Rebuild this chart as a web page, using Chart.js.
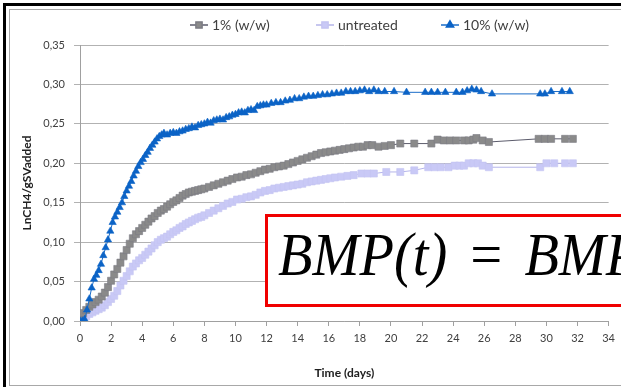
<!DOCTYPE html>
<html lang="en">
<head>
  <meta charset="UTF-8">
  <title>BMP curves</title>
  <style>
    html, body {
      margin: 0;
      padding: 0;
      width: 621px;
      height: 387px;
      overflow: hidden;
      background: #fff;
      font-family: 'Lato', sans-serif;
    }
    #wrap {
      position: relative;
      width: 621px;
      height: 387px;
      overflow: hidden;
    }
    canvas { position: absolute; left: 0; top: 0; }
    .frameOuter {
      position: absolute; left: 3px; top: 3px;
      width: 618px; height: 384px;
      border-left: 3px solid #000;
      border-top: 3px solid #000;
      box-sizing: border-box;
    }
    .frameInner {
      position: absolute; left: 9px; top: 9px;
      width: 612px; height: 377px;
      border-left: 1px solid #a8a8a8;
      border-top: 1px solid #a8a8a8;
      border-bottom: 1px solid #a8a8a8;
      box-sizing: border-box;
    }
    .formula {
      position: absolute; left: 265px; top: 214px;
      width: 356px; height: 93px;
      border: 3px solid #f00000;
      border-right: none;
      background: #fff;
      overflow: hidden;
      box-sizing: border-box;
    }
    .formula span {
      position: absolute; left: 10px; top: 6px;
      font-family: 'Liberation Serif', 'Times New Roman', serif;
      font-style: italic;
      font-size: 62px;
      line-height: 62px;
      white-space: nowrap;
      word-spacing: 6px;
      color: #000;
      transform: scaleX(0.91);
      transform-origin: left top;
    }
  </style>
  <script src="https://cdn.jsdelivr.net/npm/chart.js"></script>
</head>
<body>
<div id="wrap">
  <div class="frameOuter"></div>
  <div class="frameInner"></div>
  <canvas id="grafico" width="621" height="387"></canvas>
  <div class="formula"><span>BMP(t) = BMP</span></div>
</div>

<script>
  // series: days / LnCH4 per gSV added
  const seriesNames = ['1% (w/w)', 'untreated', '10% (w/w)'];

  const diasUno = [0.0, 0.2, 0.4, 0.6, 0.8, 1.0, 1.2, 1.4, 1.6, 1.8, 2.0, 2.2, 2.4, 2.6, 2.8, 3.0, 3.2, 3.4, 3.6, 3.8,
    4.0, 4.2, 4.4, 4.6, 4.8, 5.0, 5.2, 5.4, 5.6, 5.8, 6.0, 6.2, 6.4, 6.6, 6.8, 7.0, 7.2, 7.4, 7.6, 7.8,
    8.0, 8.3, 8.6, 8.9, 9.2, 9.5, 9.8, 10.1, 10.4, 10.7, 11.0, 11.3, 11.6, 11.9, 12.2, 12.5, 12.8, 13.1, 13.4, 13.7,
    14.0, 14.3, 14.6, 14.9, 15.2, 15.5, 15.8, 16.1, 16.4, 16.7, 17.0, 17.3, 17.6, 17.9, 18.2, 18.5, 18.8, 19.2, 19.6, 20.0,
    20.6, 21.5, 22.6, 23.0, 23.4, 23.8, 24.2, 24.7, 25.0, 25.3, 25.5, 25.9, 26.3, 29.5, 29.9, 30.3, 31.2, 31.7];
  const valoresUno = [0.004, 0.010, 0.014, 0.018, 0.021, 0.024, 0.027, 0.031, 0.036, 0.043, 0.051, 0.059, 0.066, 0.074, 0.082, 0.090, 0.098, 0.105, 0.110, 0.114,
    0.118, 0.122, 0.126, 0.130, 0.133, 0.137, 0.140, 0.142, 0.145, 0.148, 0.151, 0.153, 0.156, 0.159, 0.161, 0.163, 0.164, 0.165, 0.166, 0.167,
    0.168, 0.170, 0.172, 0.174, 0.176, 0.178, 0.180, 0.182, 0.183, 0.185, 0.186, 0.188, 0.190, 0.192, 0.193, 0.195, 0.196, 0.197, 0.199, 0.201,
    0.203, 0.205, 0.207, 0.209, 0.211, 0.213, 0.214, 0.215, 0.216, 0.217, 0.218, 0.219, 0.220, 0.221, 0.221, 0.223, 0.223, 0.221, 0.222, 0.223,
    0.225, 0.225, 0.225, 0.230, 0.229, 0.229, 0.229, 0.229, 0.229, 0.230, 0.232, 0.229, 0.227, 0.231, 0.231, 0.231, 0.231, 0.231];

  const diasSin = [0.0, 0.2, 0.4, 0.6, 0.8, 1.0, 1.2, 1.4, 1.6, 1.8, 2.0, 2.2, 2.4, 2.6, 2.8, 3.0, 3.2, 3.4, 3.6, 3.8,
    4.0, 4.2, 4.4, 4.6, 4.8, 5.0, 5.2, 5.4, 5.6, 5.8, 6.0, 6.2, 6.4, 6.6, 6.8, 7.0, 7.2, 7.4, 7.6, 7.8,
    8.0, 8.3, 8.6, 8.9, 9.2, 9.5, 9.8, 10.1, 10.4, 10.7, 11.0, 11.3, 11.6, 11.9, 12.2, 12.5, 12.8, 13.1, 13.4, 13.7,
    14.0, 14.3, 14.6, 14.9, 15.2, 15.5, 15.8, 16.1, 16.4, 16.8, 17.2, 17.6, 18.1, 18.5, 18.9, 19.7, 20.6, 21.5,
    22.4, 22.8, 23.2, 23.7, 24.1, 24.4, 24.7, 25.0, 25.3, 25.6, 25.9, 26.3, 29.6, 30.0, 30.5, 31.2, 31.7];
  const valoresSin = [0.000, 0.003, 0.006, 0.009, 0.011, 0.013, 0.015, 0.017, 0.020, 0.024, 0.028, 0.032, 0.038, 0.045, 0.051, 0.057, 0.063, 0.069, 0.073, 0.077,
    0.080, 0.084, 0.088, 0.092, 0.096, 0.100, 0.103, 0.105, 0.107, 0.110, 0.113, 0.115, 0.118, 0.120, 0.123, 0.125, 0.127, 0.129, 0.131, 0.132,
    0.134, 0.137, 0.140, 0.143, 0.146, 0.149, 0.151, 0.154, 0.155, 0.157, 0.158, 0.160, 0.163, 0.165, 0.166, 0.168, 0.169, 0.170, 0.171, 0.172,
    0.173, 0.174, 0.176, 0.177, 0.178, 0.179, 0.180, 0.181, 0.182, 0.183, 0.184, 0.185, 0.187, 0.187, 0.187, 0.189, 0.189, 0.191,
    0.195, 0.195, 0.195, 0.195, 0.197, 0.197, 0.197, 0.200, 0.200, 0.200, 0.197, 0.195, 0.195, 0.200, 0.200, 0.200, 0.200];

  const diasDiez = [0.0, 0.15, 0.3, 0.45, 0.6, 0.75, 0.9, 1.05, 1.2, 1.35, 1.5, 1.65, 1.8, 1.95, 2.1, 2.25, 2.4, 2.55, 2.7, 2.85,
    3.0, 3.15, 3.3, 3.45, 3.6, 3.75, 3.9, 4.05, 4.2, 4.35, 4.5, 4.65, 4.8, 4.95, 5.1, 5.25, 5.4, 5.6, 5.8, 6.0,
    6.2, 6.4, 6.6, 6.8, 7.0, 7.2, 7.4, 7.6, 7.8, 8.0, 8.2, 8.4, 8.6, 8.8, 9.0, 9.2, 9.4, 9.6, 9.8, 10.0,
    10.2, 10.4, 10.6, 10.8, 11.0, 11.2, 11.4, 11.6, 11.8, 12.0, 12.3, 12.6, 12.9, 13.2, 13.5, 13.8, 14.1, 14.4, 14.7, 15.0,
    15.3, 15.6, 15.9, 16.2, 16.5, 16.8, 17.1, 17.4, 17.7, 18.0, 18.3, 18.6, 18.9, 19.2, 19.6, 20.2, 21.0, 22.2, 22.6, 23.0,
    23.5, 24.2, 24.6, 24.9, 25.2, 25.5, 25.8, 26.5, 29.6, 29.9, 30.3, 31.0, 31.5];
  const valoresDiez = [0.000, 0.000, 0.002, 0.014, 0.028, 0.042, 0.053, 0.058, 0.064, 0.072, 0.083, 0.093, 0.103, 0.114, 0.125, 0.132, 0.138, 0.144, 0.150, 0.158,
    0.165, 0.171, 0.177, 0.184, 0.190, 0.196, 0.201, 0.205, 0.210, 0.214, 0.219, 0.223, 0.227, 0.231, 0.234, 0.236, 0.238, 0.236, 0.238, 0.239,
    0.238, 0.240, 0.241, 0.243, 0.244, 0.246, 0.245, 0.248, 0.249, 0.250, 0.252, 0.251, 0.254, 0.255, 0.256, 0.255, 0.258, 0.259, 0.261, 0.262,
    0.264, 0.265, 0.264, 0.267, 0.268, 0.267, 0.272, 0.273, 0.274, 0.274, 0.276, 0.277, 0.277, 0.279, 0.280, 0.282, 0.282, 0.284, 0.285, 0.285,
    0.286, 0.287, 0.287, 0.288, 0.289, 0.289, 0.291, 0.291, 0.291, 0.292, 0.293, 0.291, 0.293, 0.291, 0.291, 0.291, 0.290, 0.290, 0.290, 0.290,
    0.290, 0.290, 0.290, 0.292, 0.294, 0.293, 0.291, 0.288, 0.288, 0.288, 0.291, 0.291, 0.291];

  const xTicks = { min: 0, max: 34, step: 2 };
  const yTicks = { min: 0, max: 0.35, step: 0.05 };

  function puntos(xs, ys) {
    return xs.map((x, i) => ({ x: x, y: ys[i] }));
  }

  const estilos = [
    { color: '#8a8a8a', borde: '#7c7c84', linea: '#5c5c6c', punto: 'rect', r: 5 },
    { color: '#c9c9f6', borde: '#c4c4f2', linea: '#b4b4ea', punto: 'rect', r: 5 },
    { color: '#0b63c6', borde: '#0b63c6', linea: '#1a6cc8', punto: 'triangle', r: 4.2 }
  ];
  const datos = [puntos(diasUno, valoresUno), puntos(diasSin, valoresSin), puntos(diasDiez, valoresDiez)];
  const ordenes = [1, 2, 0];

  const fuente = "'Lato', sans-serif";

  // legend like Excel: short line through the marker, then the name
  const posLeyenda = [199, 325, 450];
  const leyendaPropia = {
    id: 'leyendaPropia',
    afterDraw(chart) {
      const ctx = chart.ctx;
      const y = 25;
      ctx.save();
      chart.data.datasets.forEach((ds, i) => {
        const cx = posLeyenda[i];
        const e = estilos[i];
        ctx.strokeStyle = e.linea;
        ctx.lineWidth = 1.5;
        ctx.beginPath();
        ctx.moveTo(cx - 9, y);
        ctx.lineTo(cx + 9, y);
        ctx.stroke();
        ctx.fillStyle = e.color;
        ctx.strokeStyle = e.borde;
        Chart.helpers.drawPoint(ctx, { pointStyle: e.punto, radius: e.punto === 'rect' ? 4.4 : 4.2, borderWidth: 0.6, rotation: 0 }, cx, y);
        ctx.fillStyle = '#404040';
        ctx.font = "14px " + fuente;
        ctx.textBaseline = 'middle';
        ctx.textAlign = 'left';
        ctx.fillText(ds.label, cx + 13, y);
      });
      ctx.restore();
    }
  };

  new Chart(document.getElementById('grafico'), {
    type: 'line',
    data: {
      datasets: seriesNames.map((nombre, i) => ({
        label: nombre,
        data: datos[i],
        order: ordenes[i],
        borderColor: estilos[i].linea,
        borderWidth: 1,
        backgroundColor: estilos[i].color,
        pointStyle: estilos[i].punto,
        pointRadius: estilos[i].r,
        pointBorderWidth: 0.6,
        pointBorderColor: estilos[i].borde,
        pointBackgroundColor: estilos[i].color,
        tension: 0,
        fill: false
      }))
    },
    options: {
      responsive: false,
      animation: false,
      layout: { padding: { top: 45, right: 11, left: 0, bottom: 0 } },
      plugins: {
        tooltip: { enabled: false },
        legend: { display: false }
      },
      scales: {
        x: {
          type: 'linear',
          min: xTicks.min,
          max: xTicks.max,
          afterFit: s => { s.height = 66; },
          ticks: {
            stepSize: xTicks.step,
            color: '#404040',
            padding: 6,
            font: { family: fuente, size: 11 }
          },
          grid: { drawOnChartArea: false, drawTicks: true, tickLength: 5, color: '#a0a0a0' },
          border: { color: '#a0a0a0' },
          title: {
            display: true,
            text: 'Time (days)',
            color: '#202020',
            font: { family: fuente, size: 12, weight: 'bold' },
            padding: { top: 0, bottom: 7 }
          }
        },
        y: {
          min: yTicks.min,
          max: yTicks.max,
          afterFit: s => { s.width = 80; },
          ticks: {
            stepSize: yTicks.step,
            color: '#404040',
            padding: 9,
            font: { family: fuente, size: 11 },
            callback: v => v.toFixed(2).replace('.', ',')
          },
          grid: { color: '#b2b2b2', tickLength: 6 },
          border: { color: '#a0a0a0' },
          title: {
            display: true,
            text: 'LnCH4/gSVadded',
            color: '#202020',
            font: { family: fuente, size: 12, weight: 'bold' },
            padding: { top: 20, bottom: 0 }
          }
        }
      }
    },
    plugins: [leyendaPropia]
  });
</script>
</body>
</html>
